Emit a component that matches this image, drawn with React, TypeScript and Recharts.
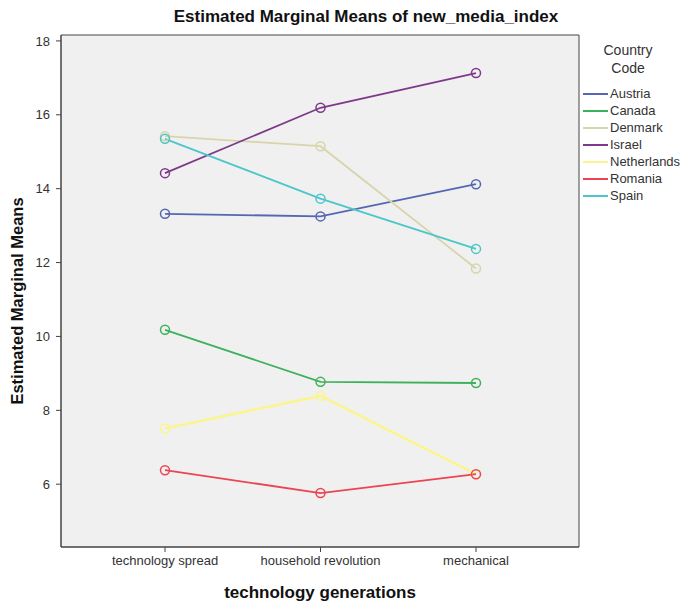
import React from 'react';
import { LineChart, Line, XAxis, YAxis, CartesianGrid } from 'recharts';

const categories = ['technology spread', 'household revolution', 'mechanical'];
const countries = ['Austria', 'Canada', 'Denmark', 'Israel', 'Netherlands', 'Romania', 'Spain'];
const colors = ['#5567b3', '#3db25a', '#d8d4ad', '#7e3a8a', '#fbf48f', '#ec4452', '#4cc6c8'];

const austria = [13.32, 13.25, 14.12];
const canada = [10.18, 8.77, 8.74];
const denmark = [15.42, 15.15, 11.84];
const israel = [14.42, 16.19, 17.13];
const netherlands = [7.51, 8.39, 6.27];
const romania = [6.38, 5.76, 6.27];
const spain = [15.35, 13.73, 12.37];

const yTicks = [6, 8, 10, 12, 14, 16, 18];

const seriesValues = [austria, canada, denmark, israel, netherlands, romania, spain];

const data = categories.map((c, i) => {
  const row: Record<string, string | number> = { gen: c };
  countries.forEach((name, k) => {
    row[name] = seriesValues[k][i];
  });
  return row;
});

const FONT = '"Liberation Sans", Arial, sans-serif';

const PLOT_TOP = 35;
const PLOT_BOTTOM = 547;
const PLOT_LEFT = 61;
const PLOT_RIGHT = 579;

export default function App() {
  return (
    <div style={{ position: 'absolute', left: 0, top: 0, width: 681, height: 607, background: '#fff', fontFamily: FONT }}>
      <LineChart width={681} height={607} data={data} margin={{ top: PLOT_TOP, right: 681 - PLOT_RIGHT, bottom: 607 - PLOT_BOTTOM - 30, left: PLOT_LEFT - 40 }}>
        <CartesianGrid
          fill="#f0f0f0"
          stroke="#444"
          strokeDasharray=""
          horizontalCoordinatesGenerator={(p: any) => {
            const o = p && p.offset;
            return o ? [o.top, o.top + o.height] : [PLOT_TOP, PLOT_BOTTOM];
          }}
          verticalCoordinatesGenerator={(p: any) => {
            const o = p && p.offset;
            return o ? [o.left, o.left + o.width] : [PLOT_LEFT, PLOT_RIGHT];
          }}
        />
        <XAxis
          dataKey="gen"
          padding={{ left: 104, right: 103 }}
          height={30}
          tickSize={5}
          tickMargin={4}
          axisLine={{ stroke: '#444' }}
          tickLine={{ stroke: '#444' }}
          tick={{ fill: '#333', fontSize: 13, fontFamily: FONT }}
        />
        <YAxis
          type="number"
          domain={[4.3, 18.16]}
          allowDataOverflow
          ticks={yTicks}
          width={40}
          tickSize={5}
          tickMargin={6}
          axisLine={{ stroke: '#444' }}
          tickLine={{ stroke: '#444' }}
          tick={{ fill: '#333', fontSize: 13, fontFamily: FONT }}
        />
        {countries.map((name, k) => (
          <Line
            key={name}
            dataKey={name}
            stroke={colors[k]}
            strokeWidth={name === 'Netherlands' ? 2.5 : 1.8}
            dot={{ r: 4.5, fill: 'none', stroke: colors[k], strokeWidth: 1.5 }}
            activeDot={false}
            isAnimationActive={false}
          />
        ))}
      </LineChart>

      <div style={{ position: 'absolute', left: 366, top: 7, transform: 'translateX(-50%)', whiteSpace: 'nowrap', fontSize: 17, fontWeight: 'bold', color: '#111', lineHeight: '20px' }}>
        Estimated Marginal Means of new_media_index
      </div>
      <div style={{ position: 'absolute', left: 320, top: 583, transform: 'translateX(-50%)', whiteSpace: 'nowrap', fontSize: 17, fontWeight: 'bold', color: '#111', lineHeight: '20px' }}>
        technology generations
      </div>
      <div style={{ position: 'absolute', left: 17, top: 301, transform: 'translate(-50%, -50%) rotate(-90deg)', whiteSpace: 'nowrap', fontSize: 16.5, fontWeight: 'bold', color: '#111', lineHeight: '20px' }}>
        Estimated Marginal Means
      </div>

      <div style={{ position: 'absolute', left: 628, top: 41, transform: 'translateX(-50%)', textAlign: 'center', fontSize: 14, color: '#333', lineHeight: '18px' }}>
        Country<br />Code
      </div>
      {countries.map((name, k) => (
        <div key={name} style={{ position: 'absolute', left: 583, top: 85 + k * 17, height: 17, display: 'flex', alignItems: 'center', whiteSpace: 'nowrap' }}>
          <div style={{ width: 25, height: 2, background: colors[k], marginRight: 2 }} />
          <span style={{ fontSize: 13, color: '#333' }}>{name}</span>
        </div>
      ))}
    </div>
  );
}
